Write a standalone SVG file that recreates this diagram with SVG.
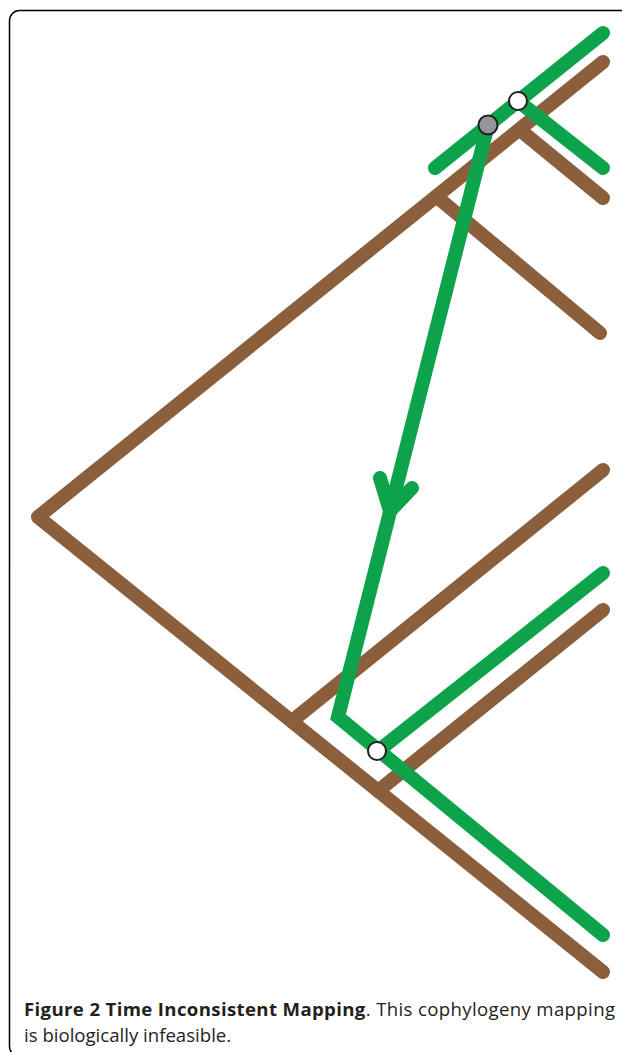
<svg xmlns="http://www.w3.org/2000/svg" width="622" height="1052" viewBox="0 0 622 1052">
<style>
.host{fill:none;stroke:#8B5E3C;stroke-width:14;stroke-linecap:round;stroke-linejoin:round}
.para{fill:none;stroke:#0DA34A;stroke-width:14;stroke-linecap:round;stroke-linejoin:miter}
.node{stroke:#231F20;stroke-width:2}
.cap{font-family:"Open Sans","Noto Sans",sans-serif;font-size:18.6px;fill:#231F20}
</style>
<rect x="9.5" y="10.5" width="700" height="1046" rx="10" fill="#fff" stroke="#000" stroke-width="1.5"/>
<g id="host-tree">
<polyline class="host" points="603,62 38,517 603,972"/>
<line class="host" x1="520" y1="130" x2="603" y2="198"/>
<line class="host" x1="437" y1="197" x2="600" y2="333"/>
<line class="host" x1="292" y1="721" x2="603" y2="470"/>
<line class="host" x1="378" y1="791" x2="603" y2="610"/>
</g>
<g id="parasite-tree">
<line class="para" x1="435" y1="168" x2="603" y2="33"/>
<line class="para" x1="518" y1="101" x2="603" y2="168"/>
<line class="para" x1="378" y1="751" x2="603" y2="573"/>
</g>
<g id="connectors">
<polyline class="para" points="488,125 338,717 603,935"/>
<polyline class="para" points="380,478 390,511 412,488" stroke-linejoin="round"/>
</g>
<g id="node-gray"><circle class="node" cx="488" cy="125" r="9.5" fill="#939598"/></g>
<g id="node-white-top"><circle class="node" cx="518" cy="101" r="9" fill="#fff"/></g>
<g id="node-white-bottom"><circle class="node" cx="377" cy="751" r="9" fill="#fff"/></g>
<g id="caption">
<text class="cap" x="24" y="1016" textLength="591" lengthAdjust="spacing"><tspan font-weight="bold">Figure 2 Time Inconsistent Mapping</tspan>. This cophylogeny mapping</text>
<text class="cap" x="24" y="1042">is biologically infeasible.</text>
</g>
</svg>
